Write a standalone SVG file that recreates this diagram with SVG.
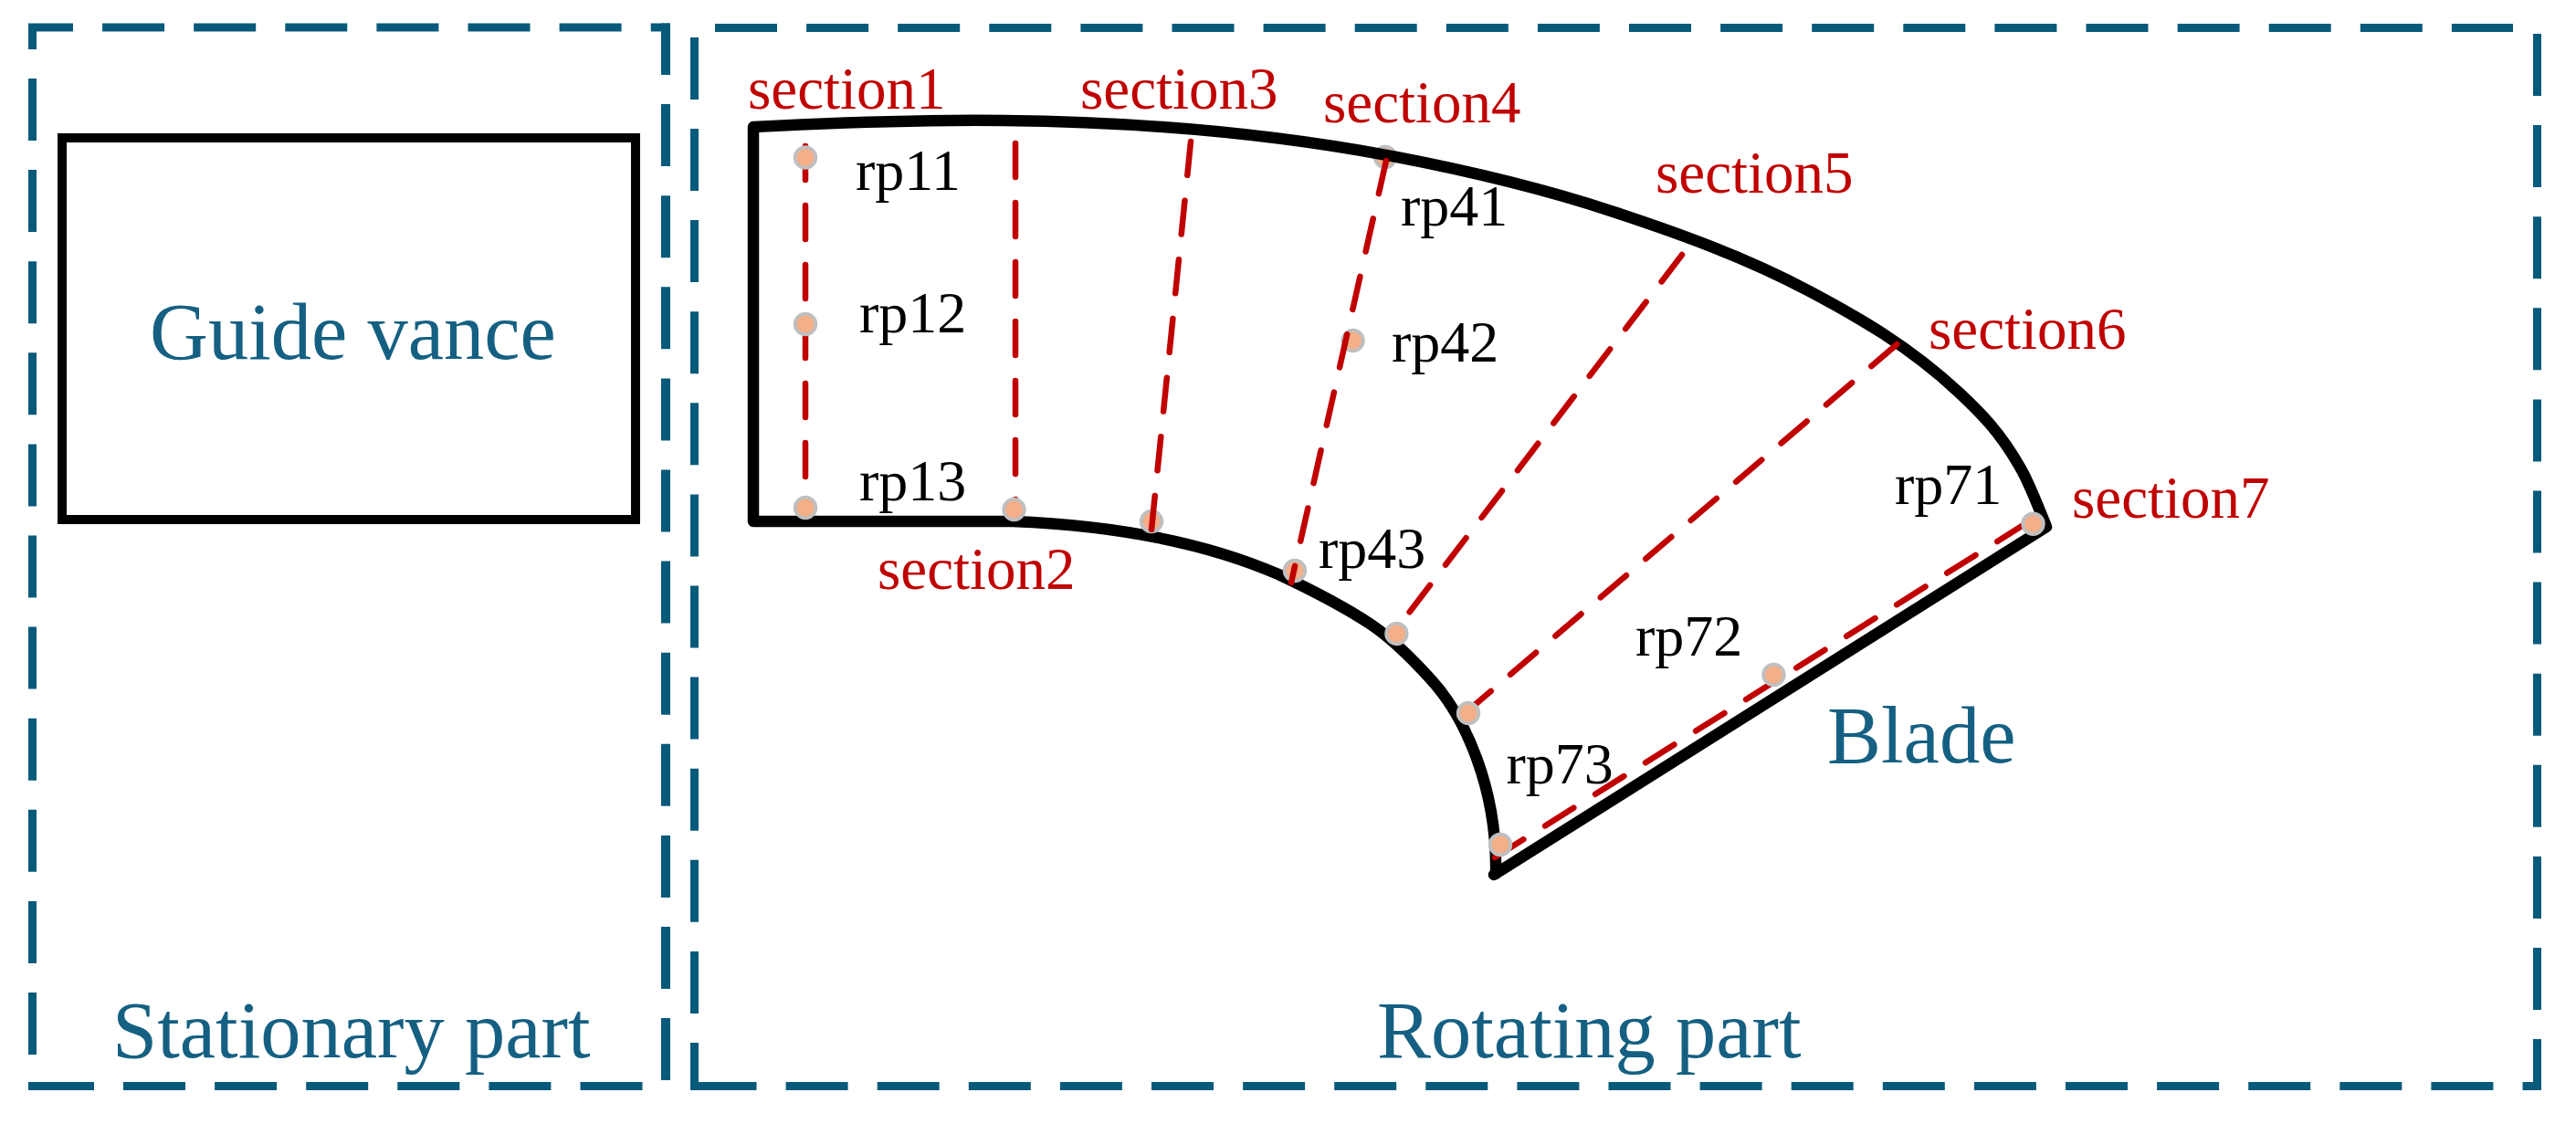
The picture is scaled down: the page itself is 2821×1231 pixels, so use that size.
<svg xmlns="http://www.w3.org/2000/svg" width="2821" height="1231" viewBox="0 0 2821 1231">
<style>
text{font-family:"Liberation Serif","Times New Roman",serif}
.big{font-size:88.5px;fill:#156082}
.sec{font-size:65px;fill:#C00000}
.rp{font-size:64px;fill:#000}
.fr{fill:none;stroke:#085A7A;stroke-width:9}
.d{stroke-dasharray:68 32.1}
.out{fill:none;stroke:#000;stroke-width:12.5;stroke-linejoin:round;stroke-linecap:round}
.cut{fill:none;stroke:#C00000;stroke-width:6.5;stroke-linecap:round;stroke-dasharray:37 28}
.dot{fill:#F4AE88;stroke:#BFBFBF;stroke-width:3.8}
</style>
<rect width="2821" height="1231" fill="#fff"/>
<g id="stationary-part">
<path class="fr d" d="M31,30H734" stroke-dashoffset="19"/>
<path class="fr d" style="stroke-width:10" d="M729,25.5V1185" stroke-dashoffset="11.5"/>
<path class="fr" d="M31,1189.5H103"/>
<path class="fr d" d="M135,1189.5H729"/>
<path class="fr d" d="M35.5,1155V26"/>
<text class="big" x="123" y="1158">Stationary part</text>
</g>
<g id="rotating-part">
<path class="fr d" d="M783,30.5H2752"/>
<path class="fr d" d="M2778.5,37V1194"/>
<path class="fr d" d="M760.5,1189.5H2783"/>
<path class="fr d" d="M760.5,1194V40" stroke-dashoffset="16"/>
<text class="big" x="1508" y="1158">Rotating part</text>
</g>
<g id="guide-vance">
<rect x="68" y="151" width="628" height="418" fill="none" stroke="#000" stroke-width="10"/>
<text class="big" x="164" y="393">Guide vance</text>
</g>
<g id="blade">
<circle class="dot" cx="1517" cy="172" r="11.3"/>
<path class="out" d="M1109,571H825V139C920,134 1010,131 1100,132C1240,133.5 1380,144 1522,170.6C1603.7,186.1 1685.3,205 1767,232C1838.5,255.6 1910,281.1 1981.6,319C2036,347.9 2090.5,378.9 2145,429.6C2168,451 2191,473.6 2214,515C2223,531.2 2232,554.5 2241,577L1636,958L1638,957C1640,865 1605,785 1566,743C1544,718.8 1522,697.5 1500,683C1467,661.2 1433,644.5 1400,629C1310,590 1210,575 1109,571Z"/>
<text class="big" x="2001" y="835">Blade</text>
</g>
<g id="connectors">
<circle class="dot" cx="1481.6" cy="373" r="11.3"/>
<circle class="dot" cx="1418" cy="625" r="11.3"/>
<circle class="dot" cx="1261" cy="571" r="11.3"/>
<path class="cut" d="M1304,155L1261,580"/>
<path class="cut" d="M1518,176L1414,638"/>
<path class="cut" d="M882,160V556"/>
<path class="cut" d="M1112,157V558"/>
<path class="cut" d="M1842,279L1537,679"/>
<path class="cut" d="M2077.5,377L1615,772"/>
<path class="cut" d="M1637,939L2219,573"/>
</g>
<g id="points">
<circle class="dot" cx="882" cy="172.5" r="11.3"/>
<circle class="dot" cx="882" cy="355" r="11.3"/>
<circle class="dot" cx="882" cy="556" r="11.3"/>
<circle class="dot" cx="1110.5" cy="558" r="11.3"/>
<circle class="dot" cx="1529.4" cy="694" r="11.3"/>
<circle class="dot" cx="1608" cy="781" r="11.3"/>
<circle class="dot" cx="1643" cy="925" r="11.3"/>
<circle class="dot" cx="1942.4" cy="739" r="11.3"/>
<circle class="dot" cx="2226.5" cy="573.7" r="11.3"/>
</g>
<g id="section-labels">
<text class="sec" x="819" y="119">section1</text>
<text class="sec" x="961" y="645">section2</text>
<text class="sec" x="1183" y="119">section3</text>
<text class="sec" x="1449" y="134">section4</text>
<text class="sec" x="1813" y="211">section5</text>
<text class="sec" x="2112" y="382">section6</text>
<text class="sec" x="2269" y="567">section7</text>
</g>
<g id="rp-labels">
<text class="rp" x="937" y="208">rp11</text>
<text class="rp" x="941" y="363.6">rp12</text>
<text class="rp" x="941" y="548">rp13</text>
<text class="rp" x="1534" y="246.5">rp41</text>
<text class="rp" x="1524" y="396">rp42</text>
<text class="rp" x="1444" y="622">rp43</text>
<text class="rp" x="2075" y="552">rp71</text>
<text class="rp" x="1791" y="718">rp72</text>
<text class="rp" x="1649.5" y="858">rp73</text>
</g>
</svg>
